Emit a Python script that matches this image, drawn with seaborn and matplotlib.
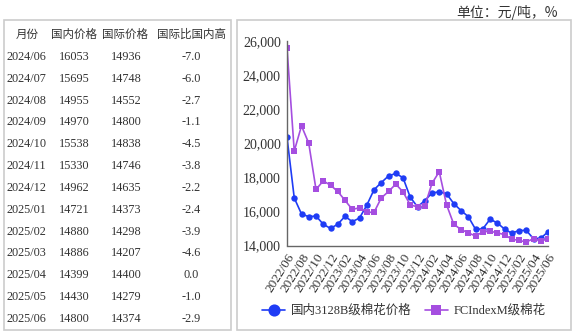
import matplotlib
matplotlib.use("Agg")
import matplotlib.pyplot as plt
import seaborn as sns
from matplotlib.patches import Rectangle
from matplotlib.ticker import StrMethodFormatter

# ---------------- data ----------------
months = ["2022/06", "2022/07", "2022/08", "2022/09", "2022/10", "2022/11", "2022/12",
          "2023/01", "2023/02", "2023/03", "2023/04", "2023/05", "2023/06", "2023/07",
          "2023/08", "2023/09", "2023/10", "2023/11", "2023/12", "2024/01", "2024/02",
          "2024/03", "2024/04", "2024/05", "2024/06", "2024/07", "2024/08", "2024/09",
          "2024/10", "2024/11", "2024/12", "2025/01", "2025/02", "2025/03", "2025/04",
          "2025/05", "2025/06"]
domestic = [20350, 16790, 15850, 15690, 15730, 15250, 15000, 15250, 15710, 15400,
            15610, 16360, 17270, 17690, 18080, 18230, 17980, 16830, 16270, 16630,
            17080, 17150, 17040, 16460, 16053, 15695, 14955, 14970, 15538, 15330,
            14962, 14721, 14880, 14886, 14399, 14430, 14800]
international = [25600, 19540, 21020, 20000, 17290, 17790, 17540, 17170, 16650, 16120,
                 16210, 15960, 15940, 16790, 17170, 17600, 17150, 16380, 16270, 16310,
                 17650, 18330, 16400, 15250, 14936, 14748, 14552, 14800, 14838, 14746,
                 14635, 14373, 14298, 14207, 14400, 14279, 14374]

series_domestic = "国内3128B级棉花价格"
series_intl = "FCIndexM级棉花"

table_header = ["月份", "国内价格", "国际价格", "国际比国内高"]
table_months = ["2024/06", "2024/07", "2024/08", "2024/09", "2024/10", "2024/11",
                "2024/12", "2025/01", "2025/02", "2025/03", "2025/04", "2025/05", "2025/06"]
table_domestic = [16053, 15695, 14955, 14970, 15538, 15330, 14962, 14721, 14880,
                  14886, 14399, 14430, 14800]
table_intl = [14936, 14748, 14552, 14800, 14838, 14746, 14635, 14373, 14298,
              14207, 14400, 14279, 14374]
table_diff = [-7.0, -6.0, -2.7, -1.1, -4.5, -3.8, -2.2, -2.4, -3.9, -4.6, 0.0, -1.0, -2.9]

unit_text = "单位：元/吨，%"

# ---------------- style ----------------
sns.set_style("white")
plt.rcParams["font.family"] = ["Liberation Serif", "Noto Sans CJK SC"]

W, H = 573, 335
fig = plt.figure(figsize=(W / 100, H / 100), dpi=100)


def fx(x):
    return x / W


def fy(y):
    return 1 - y / H


text_color = "#333333"
border_color = "#cccccc"
blue = "#1f3cf5"
purple = "#a54ee0"

# boxes
fig.add_artist(Rectangle((fx(4), fy(330)), fx(231) - fx(4), fy(20) - fy(330),
                         transform=fig.transFigure, fill=False,
                         edgecolor=border_color, lw=1.2))
fig.add_artist(Rectangle((fx(237), fy(330)), fx(571) - fx(237), fy(20) - fy(330),
                         transform=fig.transFigure, fill=False,
                         edgecolor=border_color, lw=1.2))

# unit text
fig.text(fx(558), fy(12), unit_text, ha="right", va="center", fontsize=10,
         color=text_color, family=["Noto Sans CJK SC", "DejaVu Sans"])

# table
cjk = ["Noto Sans CJK SC", "DejaVu Sans"]
head_x = [27, 74, 125, 192]
head_y = 34
for hx, ht in zip(head_x, table_header):
    fig.text(fx(hx), fy(head_y), ht, ha="center", va="center", fontsize=8.3,
             color=text_color, family=cjk)

row_y0, row_dy = 57, 21.83
for i in range(len(table_months)):
    yy = fy(row_y0 + i * row_dy)
    fig.text(fx(6.5), yy, table_months[i], ha="left", va="center", fontsize=8.8,
             color=text_color)
    fig.text(fx(74), yy, f"{table_domestic[i]}", ha="center", va="center",
             fontsize=8.8, color=text_color)
    fig.text(fx(126), yy, f"{table_intl[i]}", ha="center", va="center",
             fontsize=8.8, color=text_color)
    fig.text(fx(191), yy, f"{table_diff[i]:.1f}", ha="center", va="center",
             fontsize=8.8, color=text_color)

# chart
ax = fig.add_axes([fx(287), fy(245.5), fx(548) - fx(287), fy(41) - fy(245.5)])
sns.lineplot(x=months, y=domestic, ax=ax, color=blue, marker="o", markersize=4.6,
             markeredgewidth=0, linewidth=1.2, label=series_domestic, sort=False)
sns.lineplot(x=months, y=international, ax=ax, color=purple, marker="s",
             markersize=4.0, markeredgewidth=0, linewidth=1.2, label=series_intl,
             sort=False)

ax.set_xlim(0, len(months) - 1)
ax.set_ylim(14000, 26000)
ax.set_yticks([14000, 16000, 18000, 20000, 22000, 24000, 26000])
ax.yaxis.set_major_formatter(StrMethodFormatter("{x:,.0f}"))
tick_pos = list(range(0, len(months), 2))
ax.set_xticks(tick_pos)
ax.set_xticklabels([months[i] for i in tick_pos], rotation=58, ha="right",
                   rotation_mode="anchor")
ax.set_xlabel("")
ax.set_ylabel("")
for s in ["top", "right"]:
    ax.spines[s].set_visible(False)
for s in ["left", "bottom"]:
    ax.spines[s].set_color("#666666")
    ax.spines[s].set_linewidth(1.0)
ax.tick_params(axis="both", direction="out", length=3, width=1, color="#666666",
               labelcolor=text_color, labelsize=10, pad=1.5)
ax.tick_params(axis="x", labelsize=9.5, pad=1)
ax.set_facecolor("white")

handles, labels = ax.get_legend_handles_labels()
ax.get_legend().remove()
fig.legend(handles, labels, loc="center", bbox_to_anchor=(fx(404), fy(311)),
           ncol=2, frameon=False, fontsize=9, markerscale=1.9, handlelength=1.85,
           handletextpad=0.5, columnspacing=1.0, labelcolor=text_color)

fig.savefig("out.png", dpi=100, facecolor="white")
